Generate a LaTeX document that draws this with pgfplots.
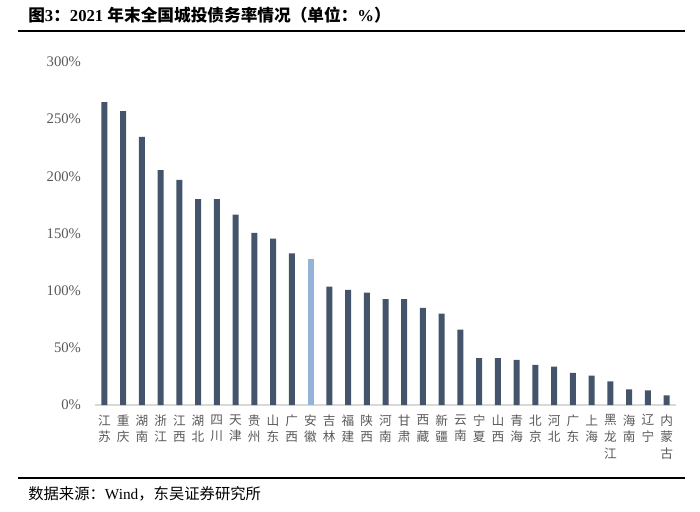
\documentclass[border=0pt]{standalone}
\usepackage{pgfplots}
\pgfplotsset{compat=1.18}
\usepackage{fontspec}
\setmainfont{Liberation Serif}
\newfontfamily\cjk{Noto Sans CJK SC}
\definecolor{barc}{HTML}{44546A}
\definecolor{hic}{HTML}{95B3D7}
\definecolor{axc}{HTML}{D9D9D9}
\definecolor{txc}{HTML}{595959}
\pgfplotstableread{
x y
0 265
1 257
2 234.5
3 205.5
4 197
5 180
6 180
7 166.5
8 150.5
9 145.5
10 132.7
12 103.5
13 100.6
14 98.3
15 92.7
16 92.5
17 84.9
18 79.9
19 65.9
20 41.1
21 41
22 39.4
23 35
24 33.5
25 28
26 25.6
27 20.7
28 13.7
29 12.8
30 8.5
}\datatable
\begin{document}
\begin{tikzpicture}
\path[use as bounding box] (0pt,0pt) rectangle (525pt,383.25pt);
\draw[line width=1.5pt] (13.5pt,360pt) -- (513.75pt,360pt);
\draw[line width=1.5pt] (13.5pt,24.75pt) -- (513.75pt,24.75pt);
\node[anchor=west,inner sep=0pt] at (21pt,372pt) {\fontsize{12.5}{14}\selectfont\bfseries{\cjk 图}3{\cjk ：}2021 {\cjk 年末全国城投债务率情况（单位：}\%{\cjk ）}};
\node[anchor=west,inner sep=0pt] at (21pt,12.75pt) {\fontsize{11.5}{13}\selectfont{\cjk 数据来源：}Wind{\cjk ，东吴证券研究所}};
\begin{axis}[
  at={(71.25pt,79.5pt)}, anchor=south west,
  scale only axis, width=435.75pt, height=257.25pt,
  xmin=-0.5, xmax=30.5, ymin=0, ymax=300,
  axis x line*=bottom, axis y line*=left,
  x axis line style={draw=axc, line width=1pt},
  y axis line style={draw=none},
  major tick length=0pt,
  ytick={0,50,100,150,200,250,300},
  yticklabel={\pgfmathprintnumber{\tick}\%},
  /pgf/number format/assume math mode=true,
  yticklabel style={font=\fontsize{11}{12}\selectfont, text=txc, xshift=-7pt},
  xtick={0,...,30},
  xticklabels={{江\\苏},{重\\庆},{湖\\南},{浙\\江},{江\\西},{湖\\北},{四\\川},{天\\津},{贵\\州},{山\\东},{广\\西},{安\\徽},{吉\\林},{福\\建},{陕\\西},{河\\南},{甘\\肃},{西\\藏},{新\\疆},{云\\南},{宁\\夏},{山\\西},{青\\海},{北\\京},{河\\北},{广\\东},{上\\海},{黑\\龙\\江},{海\\南},{辽\\宁},{内\\蒙\\古}},
  xticklabel style={anchor=north, align=center, font=\cjk\fontsize{9.5}{12.5}\selectfont, text=txc, inner sep=0pt, yshift=-7pt},
  ybar, bar width=4.5pt,
]
\addplot[fill=barc, draw=none, bar shift=0pt] table[x=x,y=y] {\datatable};
\addplot[fill=hic, draw=none, bar shift=0pt] coordinates {(11,127.7)};
\end{axis}
\end{tikzpicture}
\end{document}
